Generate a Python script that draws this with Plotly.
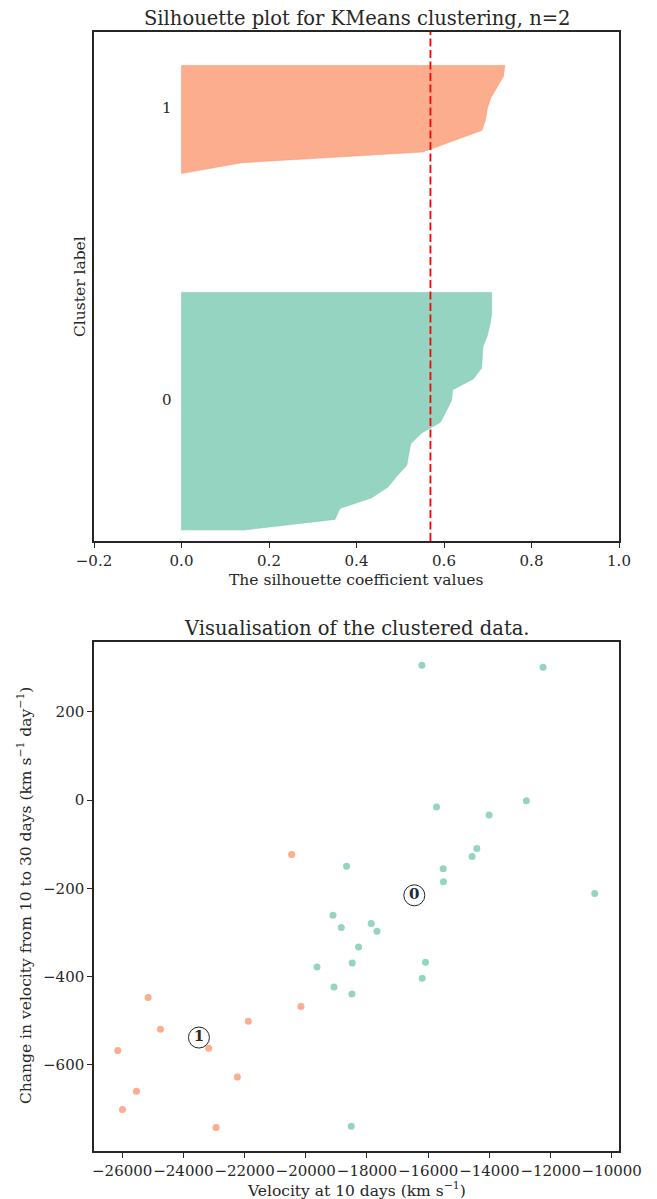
import plotly.graph_objects as go

# ---------------- data ----------------
cluster_names = ["0", "1"]
# silhouette values per cluster, sorted ascending (bottom -> top)
sil_cluster0 = [0.138, 0.351, 0.362, 0.435, 0.472, 0.492, 0.515, 0.519, 0.524, 0.549,
                0.592, 0.605, 0.617, 0.620, 0.667, 0.686, 0.687, 0.689, 0.699, 0.705,
                0.709, 0.709, 0.709]
sil_cluster1 = [0.000, 0.138, 0.552, 0.620, 0.687, 0.695, 0.699, 0.707, 0.722, 0.736, 0.739]

# scatter data: velocity at 10 days, change in velocity 10->30 days
vel10_c0 = [-16204, -12243, -15727, -14007, -12789, -14408, -14562, -18666, -15509, -15499,
            -19110, -18839, -17860, -17673, -18274, -19633, -18480, -19078, -18490, -18513,
            -10555, -16087, -16194]
dv_c0 = [305.6, 301.1, -15.9, -34.0, -1.6, -109.6, -127.8, -149.8, -155.9, -185.4,
         -261.0, -288.9, -279.8, -297.3, -332.9, -378.3, -369.2, -423.6, -439.5, -739.7,
         -211.7, -367.6, -403.9]
vel10_c1 = [-25151, -24749, -26144, -23172, -21876, -20155, -22235, -25533, -25990, -22931,
            -20462]
dv_c1 = [-447.7, -519.6, -567.9, -562.7, -501.5, -468.1, -627.9, -660.5, -701.8, -742.7,
         -123.2]

sil_xtick_vals = [-0.2, 0.0, 0.2, 0.4, 0.6, 0.8, 1.0]
sil_xtick_text = ["\u22120.2", "0.0", "0.2", "0.4", "0.6", "0.8", "1.0"]
vel_tick_vals = [-26000, -24000, -22000, -20000, -18000, -16000, -14000, -12000, -10000]
vel_tick_text = ["\u221226000", "\u221224000", "\u221222000", "\u221220000", "\u221218000",
                 "\u221216000", "\u221214000", "\u221212000", "\u221210000"]
dv_tick_vals = [-600, -400, -200, 0, 200]
dv_tick_text = ["\u2212600", "\u2212400", "\u2212200", "0", "200"]

fill_colors = ["rgba(102,194,165,0.7)", "rgba(250,138,92,0.7)"]
digit_colors = ["#1e2a36", "#3b2518"]

# ---------------- figure ----------------
W, H = 657, 1199
FONT = "DejaVu Serif"
TXT = "#262626"
OFF = 8  # page body margin offset


def px(x):
    return (x - OFF) / W


def py(y):
    return 1 - (y - OFF) / H


fig = go.Figure()

# silhouette fills
sil_all = [sil_cluster0, sil_cluster1]
y_lower = 1
label_pos = []
for i, vals in enumerate(sil_all):
    n = len(vals)
    ys = [y_lower + k for k in range(n)]
    xs = list(vals) + [0, 0]
    yy = ys + [ys[-1], ys[0]]
    fig.add_trace(go.Scatter(x=xs, y=yy, fill="toself", fillcolor=fill_colors[i],
                             mode="lines", line=dict(width=0.6, color=fill_colors[i]),
                             xaxis="x", yaxis="y", showlegend=False, hoverinfo="skip"))
    label_pos.append(y_lower + 0.5 * n)
    y_lower = y_lower + n + 10

all_vals = sil_cluster0 + sil_cluster1
sil_avg = sum(all_vals) / len(all_vals)

for i, yl in enumerate(label_pos):
    fig.add_annotation(x=-0.05, y=yl, xref="x", yref="y", text=cluster_names[i],
                       showarrow=False, xanchor="left", yanchor="middle", yshift=6,
                       font=dict(size=15, family=FONT, color=TXT))

fig.add_shape(type="line", x0=sil_avg, x1=sil_avg, y0=0, y1=1, xref="x", yref="y domain",
              line=dict(color="red", width=1.8, dash="8px,3.5px"))

# scatter
for vx, vy, col in [(vel10_c0, dv_c0, fill_colors[0]), (vel10_c1, dv_c1, fill_colors[1])]:
    fig.add_trace(go.Scatter(x=vx, y=vy, mode="markers", xaxis="x2", yaxis="y2",
                             marker=dict(size=7, color=col, line=dict(width=0)),
                             showlegend=False))

centers = []
for vx, vy in [(vel10_c0, dv_c0), (vel10_c1, dv_c1)]:
    centers.append((sum(vx) / len(vx), sum(vy) / len(vy)))

for i, (cx, cy) in enumerate(centers):
    fig.add_trace(go.Scatter(x=[cx], y=[cy], mode="markers", xaxis="x2", yaxis="y2",
                             marker=dict(size=21, color="white",
                                         line=dict(width=1, color="#222222")),
                             showlegend=False))
    fig.add_trace(go.Scatter(x=[cx], y=[cy], mode="text", xaxis="x2", yaxis="y2",
                             text=["<b>%s</b>" % cluster_names[i]],
                             textposition="middle center",
                             textfont=dict(size=15, family=FONT, color=digit_colors[i]),
                             showlegend=False))

axis_common = dict(showline=True, linecolor=TXT, linewidth=1.5, mirror=True,
                   showgrid=False, zeroline=False, ticks="outside", ticklen=5,
                   tickwidth=1.3, tickcolor=TXT, automargin=False, tickangle=0,
                   tickfont=dict(size=15, family=FONT, color=TXT))

fig.update_layout(
    width=W, height=H,
    margin=dict(l=0, r=0, t=0, b=0, pad=0),
    paper_bgcolor="white", plot_bgcolor="white",
    font=dict(family=FONT, color=TXT, size=15),
    xaxis=dict(domain=[px(94), px(619)], anchor="y", range=[-0.2, 1.0],
               tickvals=sil_xtick_vals, ticktext=sil_xtick_text, **axis_common),
    yaxis=dict(domain=[py(541), py(32)], anchor="x", range=[0, 47.1],
               showline=True, linecolor=TXT, linewidth=1.5, mirror=True, automargin=False,
               showgrid=False, zeroline=False, showticklabels=False, ticks=""),
    xaxis2=dict(domain=[px(94), px(619)], anchor="y2", range=[-26921, -9762],
                tickvals=vel_tick_vals, ticktext=vel_tick_text, **axis_common),
    yaxis2=dict(domain=[py(1151), py(641.7)], anchor="x2", range=[-795.8, 359.2],
                tickvals=dv_tick_vals, ticktext=dv_tick_text, **axis_common),
)

# titles and axis labels as paper annotations
def ann(text, x, y, size=15.5, angle=0):
    fig.add_annotation(text=text, x=px(x), y=py(y), xref="paper", yref="paper",
                       showarrow=False, xanchor="center", yanchor="middle",
                       textangle=angle, font=dict(size=size, family=FONT, color=TXT))

ann("Silhouette plot for KMeans clustering, n=2", 356.5, 19, size=19.5)
ann("The silhouette coefficient values", 356.5, 580)
ann("Cluster label", 80, 287, angle=-90)
ann("Visualisation of the clustered data.", 356.5, 628, size=19.5)
ann("Velocity at 10 days (km s<sup>\u22121</sup>)", 356.5, 1189)
ann("Change in velocity from 10 to 30 days (km s<sup>\u22121</sup> day<sup>\u22121</sup>)",
    25, 896, angle=-90)

fig.write_html("out.html")
